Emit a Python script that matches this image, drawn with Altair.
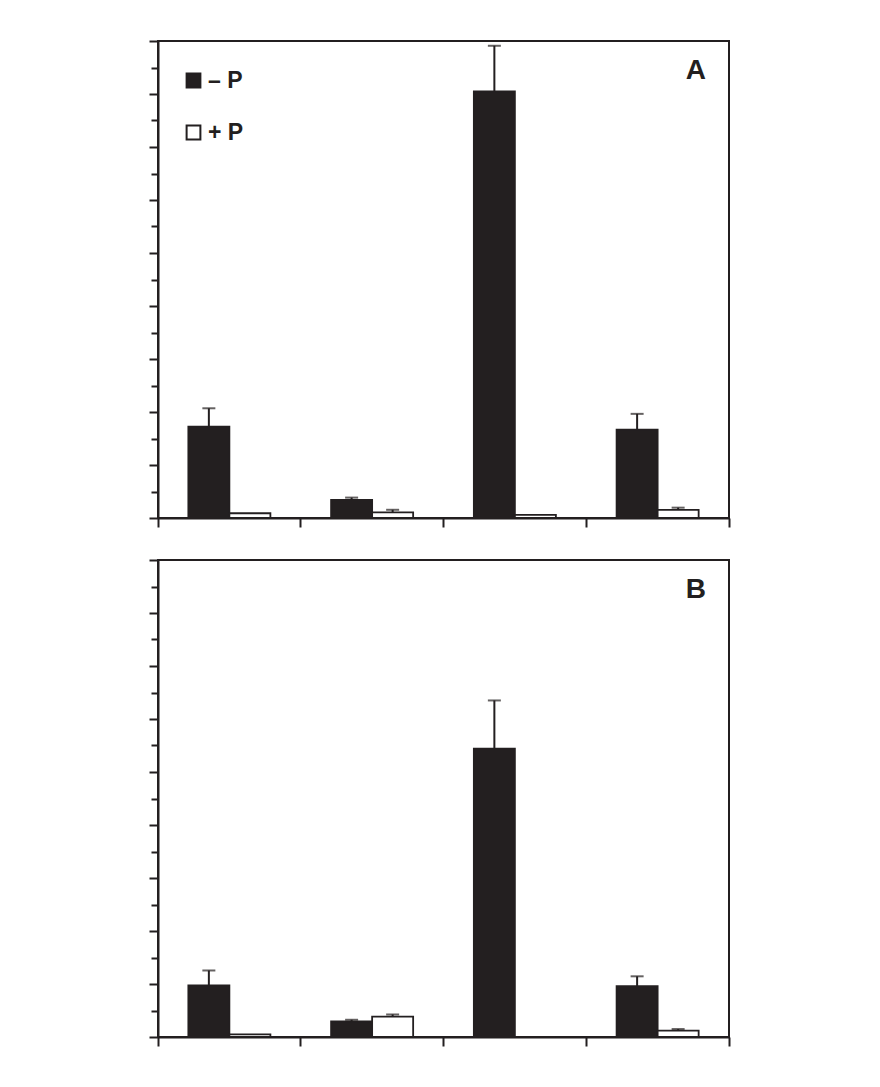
import altair as alt
import pandas as pd

# ---- data (y units: 18 minor intervals per panel) ----
groups = ["1", "2", "3", "4"]
treatments = ["– P", "+ P"]
panel_letters = ["A", "B"]

a_minus = [3.45, 0.68, 16.10, 3.33]
a_minus_err = [0.69, 0.09, 1.72, 0.60]
a_plus = [0.18, 0.21, 0.12, 0.31]
a_plus_err = [0.0, 0.10, 0.0, 0.08]

b_minus = [1.95, 0.59, 10.88, 1.92]
b_minus_err = [0.56, 0.06, 1.82, 0.37]
b_plus = [0.10, 0.77, 0.0, 0.24]
b_plus_err = [0.0, 0.08, 0.0, 0.06]

major_ticks = list(range(0, 19, 2))
minor_ticks = list(range(1, 19, 2))

INK = "#231f20"


def make_df(minus, minus_err, plus, plus_err):
    rows = []
    for g, v, e in zip(groups, minus, minus_err):
        rows.append(dict(group=g, treat=treatments[0], value=v, err=e, top=v + e))
    for g, v, e in zip(groups, plus, plus_err):
        rows.append(dict(group=g, treat=treatments[1], value=v, err=e, top=v + e))
    return pd.DataFrame(rows)


def panel(df, letter, show_legend):
    x = alt.X(
        "group:N", sort=groups,
        scale=alt.Scale(paddingInner=0, paddingOuter=0),
        axis=alt.Axis(title=None, labels=False, bandPosition=1, tickExtra=True,
                      tickSize=9, tickWidth=2, tickColor=INK,
                      domainWidth=2, domainColor=INK),
    )
    xo = alt.XOffset("treat:N", sort=treatments,
                     scale=alt.Scale(paddingInner=0, paddingOuter=0.74))
    yscale = alt.Scale(domain=[0, 18], nice=False, zero=True)
    y_major = alt.Y(
        "value:Q", scale=yscale,
        axis=alt.Axis(title=None, labels=False, values=major_ticks, grid=False,
                      orient="left", tickSize=9, tickWidth=2, tickColor=INK,
                      domainWidth=2, domainColor=INK),
    )
    y_minor = alt.Y(
        "value:Q", scale=yscale,
        axis=alt.Axis(title=None, labels=False, values=minor_ticks, grid=False,
                      orient="left", tickSize=7, tickWidth=2, tickColor=INK,
                      domain=False),
    )
    legend = None
    if show_legend:
        legend = alt.Legend(
            title=None, orient="none", legendX=24, legendY=28, padding=0,
            symbolType="square", symbolSize=190, symbolStrokeColor=INK,
            symbolStrokeWidth=2, labelFont="Liberation Sans", labelFontSize=23,
            labelFontWeight="bold", labelColor=INK, labelOffset=3, rowPadding=28,
        )
    color = alt.Color("treat:N", sort=treatments,
                      scale=alt.Scale(domain=treatments, range=[INK, "white"]),
                      legend=legend)

    base = alt.Chart(df)
    bars = base.mark_bar(stroke=INK, strokeWidth=1.8).encode(
        x=x, xOffset=xo, y=y_major, fill=color)
    err = base.transform_filter("datum.err > 0")
    stems = err.mark_rule(color=INK, strokeWidth=2).encode(
        x=x, xOffset=xo, y=y_minor, y2="top:Q")
    caps = err.mark_tick(color=INK, thickness=2, size=13, orient="horizontal").encode(
        x=x, xOffset=xo, y=alt.Y("top:Q", axis=None))
    label = alt.Chart(pd.DataFrame({"label": [letter]})).mark_text(
        align="right", baseline="alphabetic", font="Liberation Sans",
        fontSize=28, fontWeight="bold", color=INK,
    ).encode(text="label:N", x=alt.value(548), y=alt.value(38))

    return alt.layer(bars, stems, caps, label).resolve_axis(y="independent").properties(
        width=571, height=477)


chart_a = panel(make_df(a_minus, a_minus_err, a_plus, a_plus_err), panel_letters[0], True)
chart_b = panel(make_df(b_minus, b_minus_err, b_plus, b_plus_err), panel_letters[1], False)

chart = alt.vconcat(chart_a, chart_b, spacing=29).properties(
    padding={"left": 139, "top": 31, "right": 10, "bottom": 10},
    background="white",
).configure_view(stroke=INK, strokeWidth=2)

chart.save("out.html", embed_options={"renderer": "svg", "actions": False})
